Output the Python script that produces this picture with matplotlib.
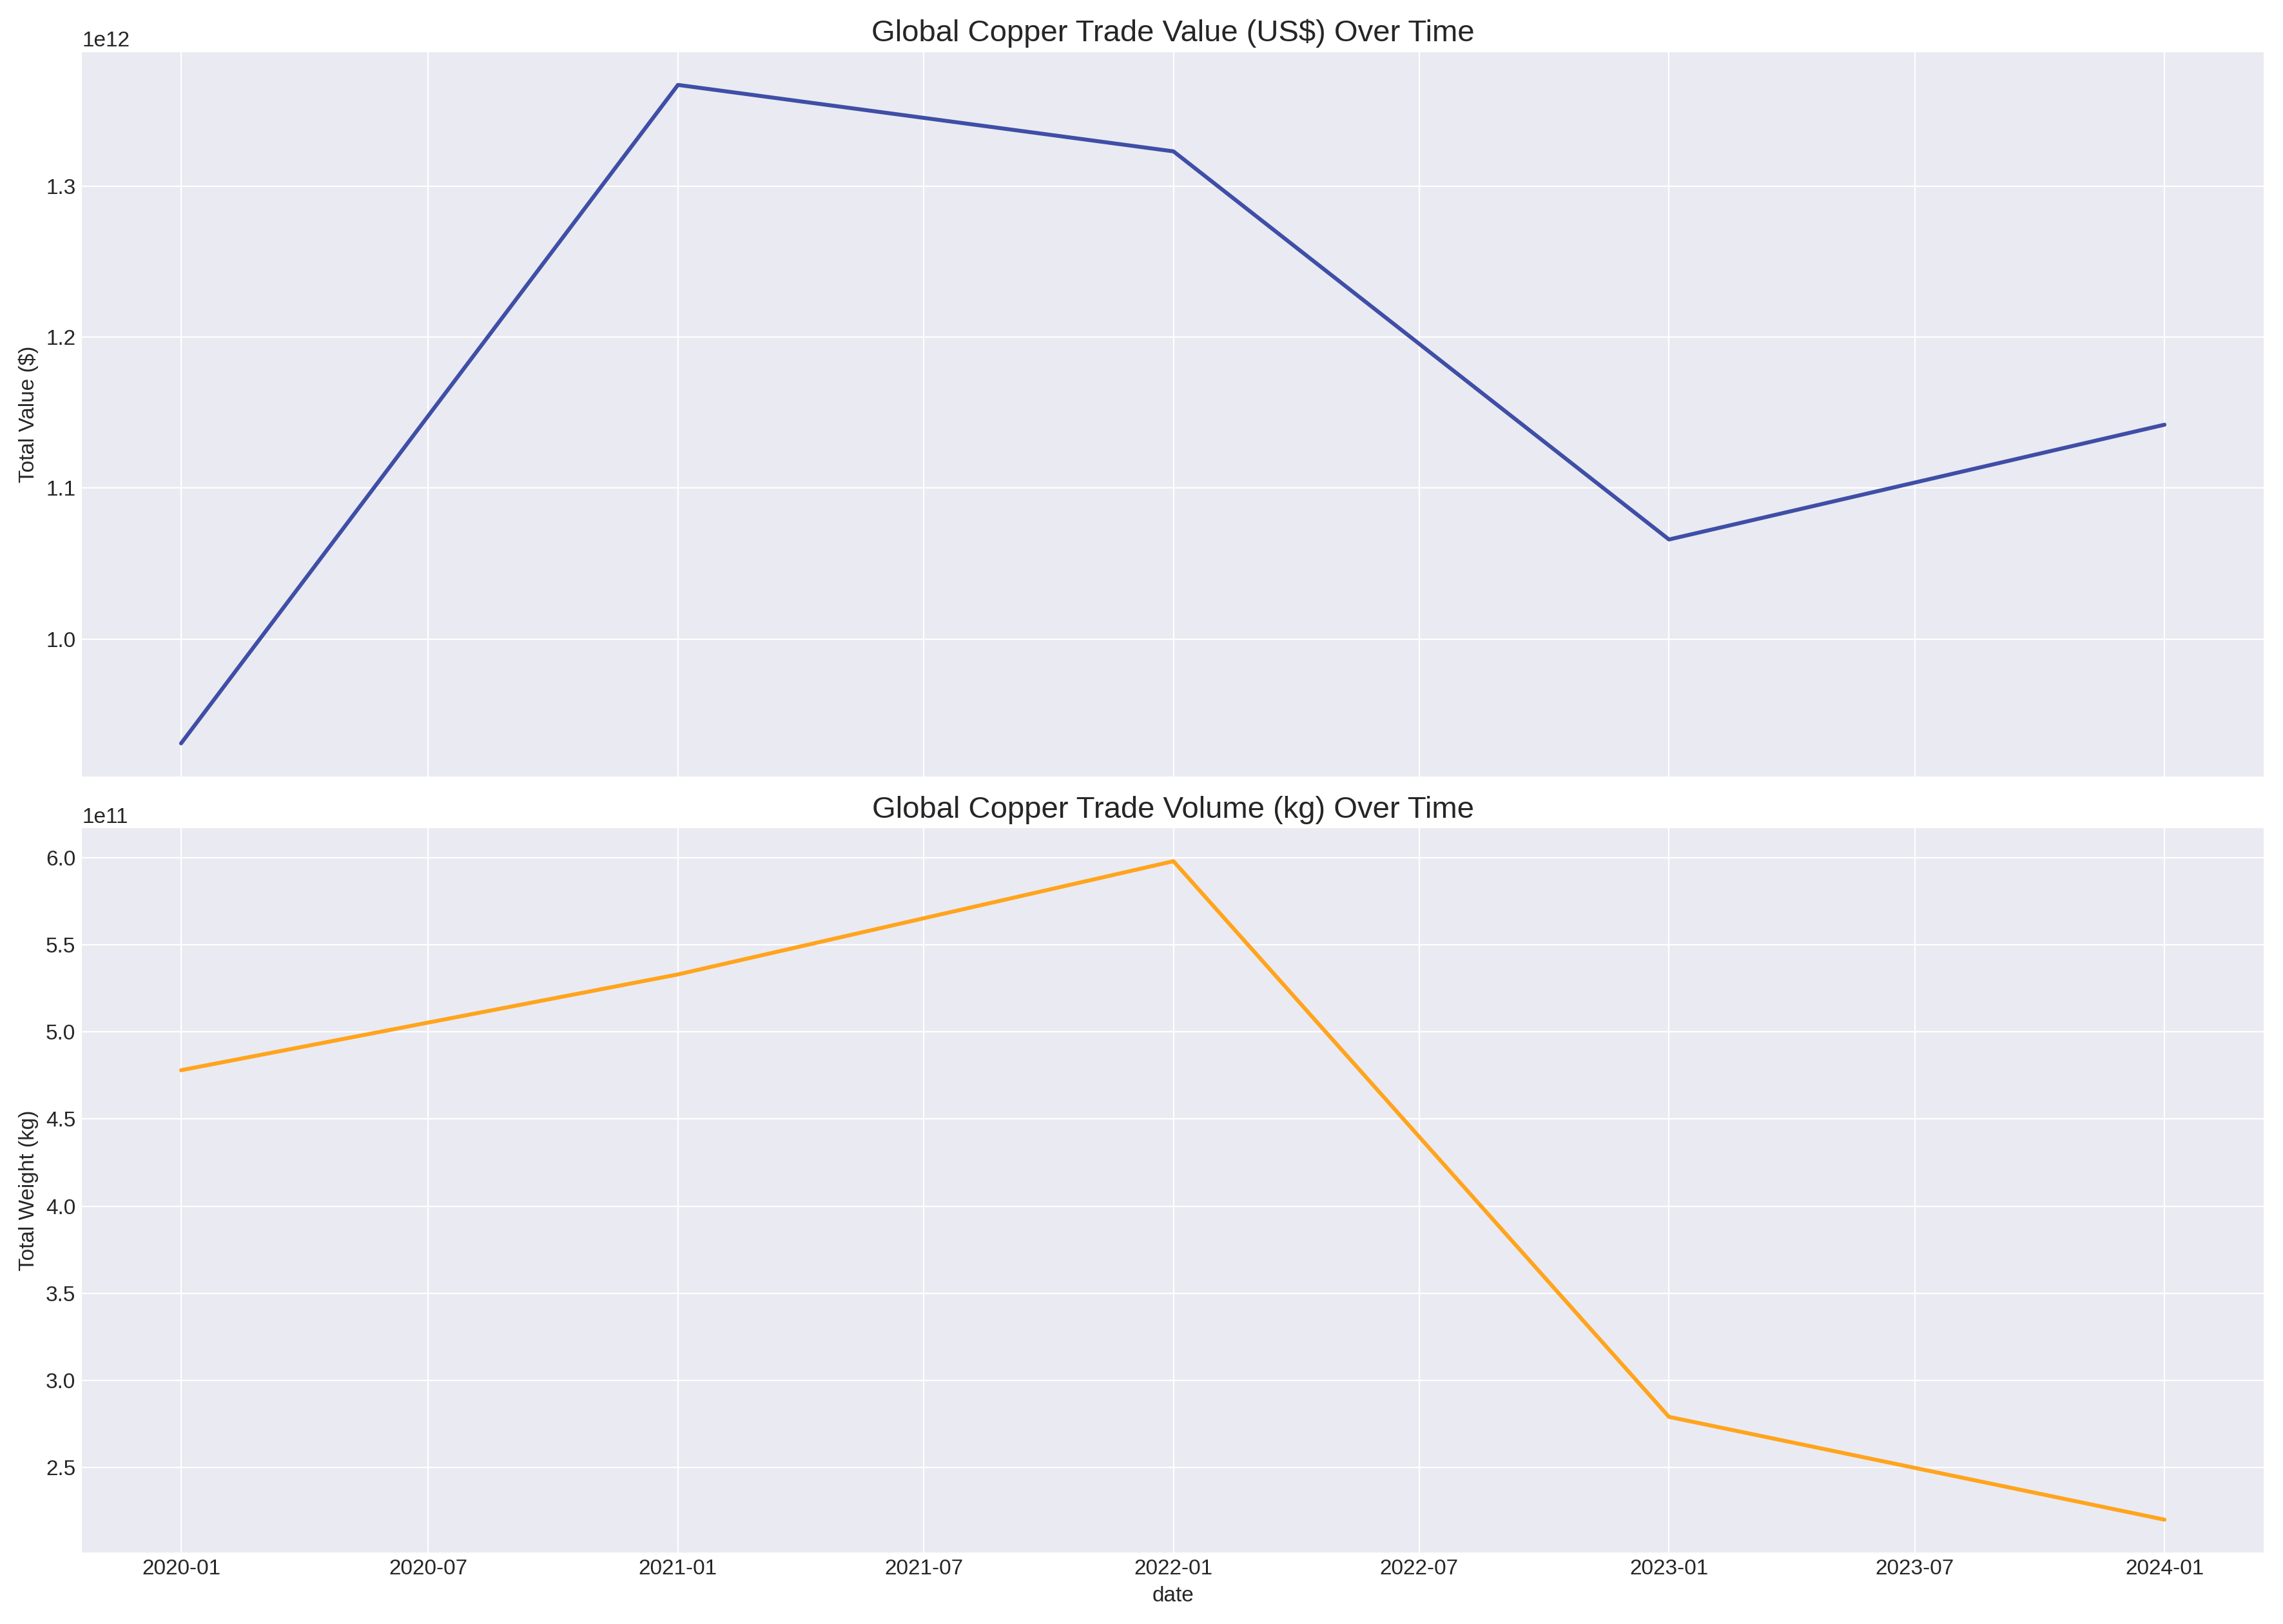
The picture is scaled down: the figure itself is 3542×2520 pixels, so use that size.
import matplotlib
matplotlib.use("Agg")
import matplotlib.pyplot as plt
import pandas as pd

DATES = pd.to_datetime(["2020-01-01", "2021-01-01", "2022-01-01", "2023-01-01", "2024-01-01"])
TOTAL_VALUE = [0.931e12, 1.367e12, 1.323e12, 1.066e12, 1.142e12]
TOTAL_WEIGHT = [4.78e11, 5.33e11, 5.98e11, 2.79e11, 2.20e11]

plt.style.use("seaborn-v0_8-darkgrid")

figure, (top_axis, bottom_axis) = plt.subplots(2, 1, figsize=(17.71, 12.6), sharex=True)

top_axis.plot(DATES, TOTAL_VALUE, color="#3f4ea6", linewidth=2.2)
top_axis.set_title("Global Copper Trade Value (US$) Over Time", fontsize=17)
top_axis.set_ylabel("Total Value ($)", fontsize=12)

bottom_axis.plot(DATES, TOTAL_WEIGHT, color="#ffa41c", linewidth=2.2)
bottom_axis.set_title("Global Copper Trade Volume (kg) Over Time", fontsize=17)
bottom_axis.set_ylabel("Total Weight (kg)", fontsize=12)
bottom_axis.set_xlabel("date", fontsize=12)

for axis in (top_axis, bottom_axis):
    axis.tick_params(labelsize=12)
    axis.yaxis.get_offset_text().set_fontsize(12)

figure.tight_layout()
figure.savefig("out.png", dpi=200)
